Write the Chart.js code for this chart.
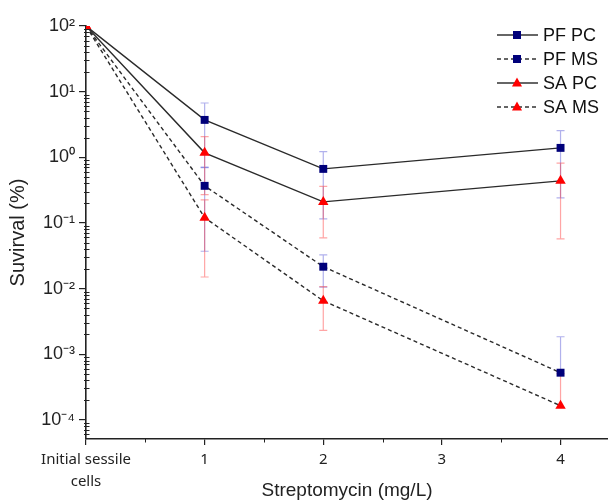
<!DOCTYPE html>
<html>
<head>
<meta charset="utf-8">
<script src="https://cdn.jsdelivr.net/npm/chart.js@4.4.0/dist/chart.umd.min.js"></script>
<style>
  html, body { margin: 0; padding: 0; background: #fff; }
</style>
</head>
<body>
<canvas id="myChart" width="608" height="502"></canvas>
<script>
// x positions: 0 = initial sessile cells, then streptomycin (mg/L)
let doses = [0, 1, 2, 4];
// survival (%) and +/- error for each series
let pfPC = [100, 3.71, 0.665, 1.39];
let pfPCErr = [0, 3.0, 0.55, 1.15];
let pfMS = [100, 0.367, 0.0215, 0.000522];
let pfMSErr = [0, 0.33, 0.011, 0.00132];
let saPC = [100, 1.17, 0.209, 0.437];
let saPCErr = [0, 0.9, 0.15, 0.38];
let saMS = [100, 0.12, 0.0065, 0.000164];
let saMSErr = [0, 0.105, 0.0042, 0.00034];

// tick labels
let xTickValues = [0, 1, 2, 3, 4];
let xTickLabels = [['Initial sessile', 'cells'], '1', '2', '3', '4'];
let yTickValues = [1e-4, 1e-3, 1e-2, 1e-1, 1, 10, 100];
let yTickLabels = ['10⁻⁴', '10⁻³', '10⁻²', '10⁻¹', '10⁰', '10¹', '10²'];

let ctx = document.getElementById('myChart');

function makeSet(label, values, errs, dashed, color, style, errColor) {
    return {
        label: label,
        data: doses.map((d, i) => ({x: d, y: values[i]})),
        errors: errs,
        errColor: errColor,
        borderColor: '#2a2a2a',
        borderWidth: 1.4,
        borderDash: dashed ? [4, 3] : [],
        pointStyle: style,
        pointRadius: style === 'rect' ? 5.6 : 6,
        pointBackgroundColor: color,
        pointBorderColor: color,
        pointBorderWidth: 0,
        fill: false,
        tension: 0
    };
}

let blueErr = 'rgba(70,70,210,0.42)';
let redErr = 'rgba(255,40,40,0.42)';

let datasets = [
    makeSet('PF PC', pfPC, pfPCErr, false, '#00007a', 'rect', blueErr),
    makeSet('PF MS', pfMS, pfMSErr, true, '#00007a', 'rect', blueErr),
    makeSet('SA PC', saPC, saPCErr, false, '#ff0000', 'triangle', redErr),
    makeSet('SA MS', saMS, saMSErr, true, '#ff0000', 'triangle', redErr)
];
datasets.forEach((d, i) => d.order = 4 - i);

// error bars drawn under the markers
let errorBars = {
    id: 'errorBars',
    beforeDatasetsDraw(chart) {
        let c = chart.ctx, y = chart.scales.y, a = chart.chartArea;
        c.save();
        c.beginPath();
        c.rect(a.left, a.top, a.right - a.left, a.bottom - a.top);
        c.clip();
        chart.data.datasets.forEach((ds, di) => {
            let meta = chart.getDatasetMeta(di);
            c.strokeStyle = ds.errColor;
            c.lineWidth = 1.2;
            ds.data.forEach((p, i) => {
                let e = ds.errors[i];
                if (!e) return;
                let px = meta.data[i].x;
                let py = meta.data[i].y;
                let top = y.getPixelForValue(p.y + e);
                let low = p.y - e;
                let bot = low > 0 ? y.getPixelForValue(low) : py;
                c.beginPath();
                c.moveTo(px, top); c.lineTo(px, bot);
                c.moveTo(px - 4, top); c.lineTo(px + 4, top);
                if (low > 0) { c.moveTo(px - 4, bot); c.lineTo(px + 4, bot); }
                c.stroke();
            });
        });
        c.restore();
    }
};

// minor ticks on both axes + legend in the top right
let extras = {
    id: 'extras',
    afterDraw(chart) {
        let c = chart.ctx, a = chart.chartArea;
        let y = chart.scales.y, x = chart.scales.x;
        c.save();
        c.strokeStyle = '#222';
        c.lineWidth = 1;
        c.beginPath();
        for (let e = -5; e <= 1; e++) {
            for (let m = 2; m <= 9; m++) {
                let v = m * Math.pow(10, e);
                if (v < y.min || v > y.max) continue;
                let py = Math.round(y.getPixelForValue(v)) + 0.5;
                c.moveTo(a.left - 2, py); c.lineTo(a.left + 3.5, py);
            }
        }
        [0.5, 1.5, 2.5, 3.5].forEach(v => {
            let px = Math.round(x.getPixelForValue(v)) + 0.5;
            c.moveTo(px, a.bottom); c.lineTo(px, a.bottom + 3.5);
        });
        c.stroke();

        // legend
        chart.data.datasets.forEach((ds, i) => {
            let ly = 35 + 24 * i;
            c.strokeStyle = '#333';
            c.lineWidth = 1.3;
            c.setLineDash(ds.borderDash);
            c.beginPath();
            c.moveTo(497, ly); c.lineTo(538, ly);
            c.stroke();
            c.setLineDash([]);
            c.fillStyle = ds.pointBackgroundColor;
            c.beginPath();
            if (ds.pointStyle === 'rect') {
                c.rect(513, ly - 4, 8, 8);
            } else {
                c.moveTo(517, ly - 5.5); c.lineTo(522, ly + 3.5); c.lineTo(512, ly + 3.5);
                c.closePath();
            }
            c.fill();
            c.fillStyle = '#111';
            c.font = '18px "Liberation Sans", Arial, sans-serif';
            c.textBaseline = 'middle';
            c.textAlign = 'left';
            c.fillText(ds.label, 543, ly + 1);
        });
        c.restore();
    }
};

let myChart = new Chart(ctx, {
    type: 'line',
    data: { datasets: datasets },
    options: {
        responsive: false,
        animation: false,
        devicePixelRatio: 1,
        layout: { autoPadding: false, padding: { top: 26, right: 0, left: 0, bottom: 0 } },
        plugins: { legend: { display: false }, tooltip: { enabled: false } },
        scales: {
            x: {
                type: 'linear', min: 0, max: 4.4,
                afterBuildTicks: s => { s.ticks = xTickValues.map(v => ({value: v})); },
                afterFit: s => { s.height = 63; },
                grid: { drawOnChartArea: false, tickLength: 6, color: '#222', lineWidth: 1.2 },
                border: { color: '#222', width: 1.6 },
                ticks: {
                    color: '#222', padding: 4, maxRotation: 0, autoSkip: false,
                    font: { family: 'Noto Sans', size: 15, lineHeight: 1.45 },
                    callback: v => xTickLabels[xTickValues.indexOf(v)]
                },
                title: {
                    display: true, text: 'Streptomycin (mg/L)', color: '#222',
                    font: { family: 'Liberation Sans', size: 19 }, padding: { top: 0, bottom: 0 }
                }
            },
            y: {
                type: 'logarithmic', min: 5.1e-5, max: 100,
                afterBuildTicks: s => { s.ticks = yTickValues.map(v => ({value: v})); },
                afterFit: s => { s.width = 86; },
                grid: { drawOnChartArea: false, tickLength: 7, color: '#222', lineWidth: 1.2 },
                border: { color: '#222', width: 1.6 },
                ticks: {
                    color: '#222', padding: 4,
                    font: { family: 'Liberation Sans', size: 18 },
                    callback: v => {
                        let i = yTickValues.findIndex(t => Math.abs(Math.log10(t) - Math.log10(v)) < 1e-6);
                        return i >= 0 ? yTickLabels[i] : '';
                    }
                },
                title: {
                    display: true, text: 'Suvirval (%)', color: '#222',
                    font: { family: 'Liberation Sans', size: 20 }, padding: { top: 6, bottom: 0 }
                }
            }
        }
    },
    plugins: [errorBars, extras]
});
</script>
</body>
</html>
